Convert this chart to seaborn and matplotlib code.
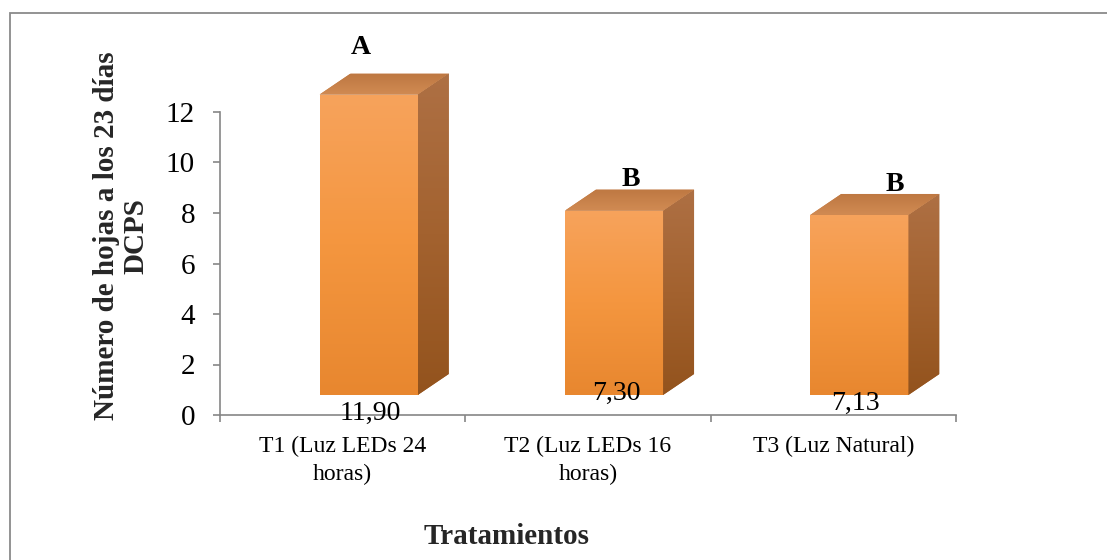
import numpy as np
import pandas as pd
import matplotlib
matplotlib.use("Agg")
import matplotlib.pyplot as plt
from matplotlib.patches import Polygon, Rectangle
from matplotlib.colors import LinearSegmentedColormap
import seaborn as sns

# ---- data -------------------------------------------------------------
categories = ["T1 (Luz LEDs 24\nhoras)", "T2 (Luz LEDs 16\nhoras)", "T3 (Luz Natural)"]
values = [11.90, 7.30, 7.13]
letters = ["A", "B", "B"]
y_ticks = [0, 2, 4, 6, 8, 10, 12]

# ---- style ------------------------------------------------------------
sns.set_style("white")
plt.rcParams["font.family"] = ["Liberation Serif", "DejaVu Serif"]

W, H = 1107, 560
fig = plt.figure(figsize=(W / 100, H / 100), dpi=100)
fig.patch.set_facecolor("white")

# plotting area in pixels (left, right, bottom, top)
ax_l, ax_r, ax_b, ax_t = 220, 956, 415, 30
ax = fig.add_axes([ax_l / W, 1 - ax_b / H, (ax_r - ax_l) / W, (ax_b - ax_t) / H])
ax.patch.set_alpha(0)

df = pd.DataFrame({"tratamiento": categories, "hojas": values})
sns.barplot(data=df, x="tratamiento", y="hojas", width=0.4, color="#F39A45",
            saturation=1, errorbar=None, ax=ax, zorder=2)
bars = list(ax.patches)

px_per_y = 303 / 12.0
px_per_x = (ax_r - ax_l) / 3.0
ymax = (ax_b - ax_t) / px_per_y


def ux(px):
    return px / px_per_x


def uy(px):
    return px / px_per_y


# 3-D look: front face offset and depth of the extrusion
shift = ux(26)
base = uy(20)
depth_x = ux(31)
depth_y = uy(21)

front_cmap = LinearSegmentedColormap.from_list(
    "front", ["#E8872F", "#F4963F", "#F7A35C"])
side_cmap = LinearSegmentedColormap.from_list("side", ["#93531D", "#A3622F", "#AE7044"])
top_cmap = LinearSegmentedColormap.from_list("top", ["#D18B53", "#BE7842"])
grad = np.linspace(0, 1, 256).reshape(-1, 1)

letter_nudge = [(-23, 20), (1, 4), (20, 3)]
value_nudge = [(2, -25), (2, -5), (-4, -15)]

for i, p in enumerate(bars):
    x0 = p.get_x() + shift
    w = p.get_width()
    h = p.get_height()
    p.set_x(x0)
    p.set_y(base)
    p.set_edgecolor("none")

    # front face gradient
    im = ax.imshow(grad, extent=[x0, x0 + w, base, base + h], origin="lower",
                   cmap=front_cmap, aspect="auto", zorder=3, interpolation="bicubic")
    im.set_clip_path(p)

    # side face
    side = Polygon([(x0 + w, base), (x0 + w + depth_x, base + depth_y),
                    (x0 + w + depth_x, base + h + depth_y), (x0 + w, base + h)],
                   closed=True, facecolor="#A3622F", edgecolor="none", zorder=2)
    ax.add_patch(side)
    ims = ax.imshow(grad, extent=[x0 + w, x0 + w + depth_x, base, base + h + depth_y],
                    origin="lower", cmap=side_cmap, aspect="auto", zorder=3,
                    interpolation="bicubic")
    ims.set_clip_path(side)

    # top face
    top = Polygon([(x0, base + h), (x0 + w, base + h),
                   (x0 + w + depth_x, base + h + depth_y), (x0 + depth_x, base + h + depth_y)],
                  closed=True, facecolor="#C67F49", edgecolor="none", zorder=2)
    ax.add_patch(top)
    imt = ax.imshow(grad, extent=[x0, x0 + w + depth_x, base + h, base + h + depth_y],
                    origin="lower", cmap=top_cmap, aspect="auto", zorder=3,
                    interpolation="bicubic")
    imt.set_clip_path(top)

    # significance letter above the bar
    ax.annotate(letters[i], xy=(x0 + (w + depth_x) / 2, base + h + depth_y),
                xytext=letter_nudge[i], textcoords="offset pixels",
                ha="center", va="baseline", fontsize=20, fontweight="bold",
                color="black", zorder=5)

    # value label at the bar base
    ax.annotate(f"{values[i]:.2f}".replace(".", ","), xy=(x0 + w / 2, base),
                xytext=value_nudge[i], textcoords="offset pixels",
                ha="center", va="baseline", fontsize=20, color="black", zorder=5)

ax.set_xlim(-0.5, 2.5)
ax.set_ylim(0, ymax)

# axes decoration
axis_grey = "#868686"
for s in ["top", "right"]:
    ax.spines[s].set_visible(False)
for s in ["left", "bottom"]:
    ax.spines[s].set_color(axis_grey)
    ax.spines[s].set_linewidth(1.2)
ax.spines["left"].set_bounds(0, 12)

ax.set_yticks(y_ticks)
ax.set_yticklabels([str(t) for t in y_ticks])
ax.tick_params(axis="y", left=True, length=5, width=1.2, color=axis_grey, pad=13,
               labelsize=21, labelcolor="black")

ax.set_xticks([-0.5, 0.5, 1.5, 2.5])
ax.set_xticklabels([""] * 4)
ax.set_xticks([0, 1, 2], labels=categories, minor=True)
ax.tick_params(axis="x", which="major", bottom=True, length=5, width=1.2,
               color=axis_grey)
ax.tick_params(axis="x", which="minor", bottom=True, length=0, pad=15,
               labelsize=17, labelcolor="black")
for lbl in ax.get_xticklabels(minor=True):
    lbl.set_linespacing(1.4)
ax.set_xlabel("")
ax.set_ylabel("")
ax.grid(False)

fig.text(121 / W, 1 - 236 / H, "Número de hojas a los 23 días\nDCPS",
         rotation=90, ha="center", va="center", multialignment="center",
         fontsize=21, fontweight="bold", linespacing=1.1)
fig.text(507 / W, 1 - 537 / H, "Tratamientos", ha="center", va="center",
         fontsize=21, fontweight="bold")

# chart-area frame
fig.add_artist(Rectangle((9.5 / W, -0.1), 1.2, 1 - 13 / H + 0.1,
                         transform=fig.transFigure, fill=False,
                         edgecolor="#8A8A8A", linewidth=1.3, clip_on=False))

fig.savefig("out.png", dpi=100)
